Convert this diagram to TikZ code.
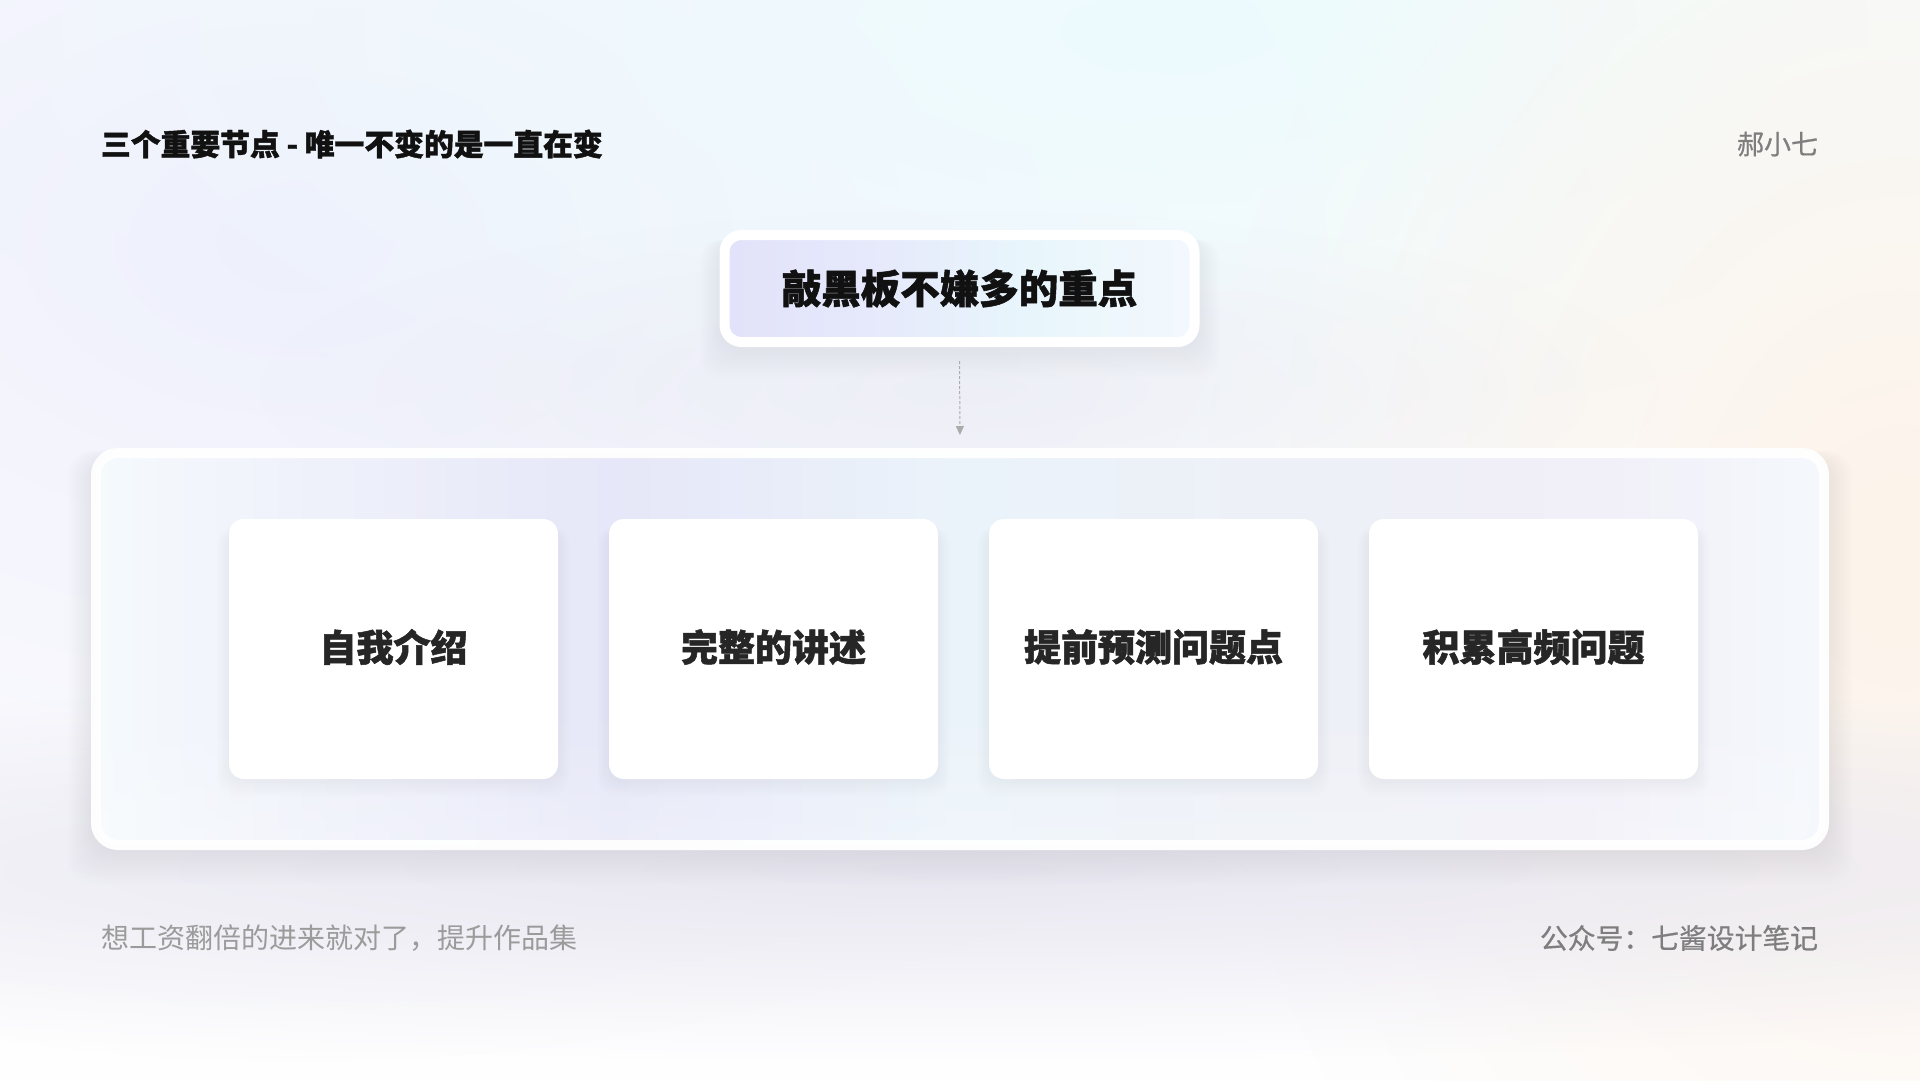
\documentclass[tikz,border=0pt]{standalone}
\usepackage{fontspec}
\usetikzlibrary{arrows.meta,fadings}
\newfontfamily\cjk{Noto Sans CJK SC}
\newfontfamily\cjkheavy{Noto Sans CJK SC}[BoldFeatures={FakeBold=1.4}]
\newfontfamily\cjkmed{Noto Sans CJK SC}[FakeBold=0.6]

\definecolor{bgbase}{HTML}{FEFEFF}
\definecolor{bglav}{HTML}{EFF0FC}
\definecolor{bgcyan}{HTML}{EDFBFD}
\definecolor{bgpeach}{HTML}{FCF3EA}
\definecolor{bgshadow}{HTML}{E8E6F0}
\definecolor{titleblack}{HTML}{111111}
\definecolor{cardtext}{HTML}{262626}
\definecolor{graytext}{HTML}{7E7E7E}
\definecolor{lighttext}{HTML}{9B9B9B}
\definecolor{arrowgray}{HTML}{ABABAB}
\definecolor{shadowcol}{HTML}{6A6888}
\definecolor{tg1}{HTML}{E2E2FA}
\definecolor{tg2}{HTML}{E6EAFB}
\definecolor{tg3}{HTML}{E8F6FC}
\definecolor{tg4}{HTML}{F3F8FD}
\definecolor{cg1}{HTML}{F5FAFD}
\definecolor{cg2}{HTML}{EEF0FA}
\definecolor{cg3}{HTML}{E6E7F8}
\definecolor{cg4}{HTML}{EBF3FA}
\definecolor{cg5}{HTML}{EDF0F7}
\definecolor{cg6}{HTML}{F1EFF8}
\definecolor{cg7}{HTML}{F4F8FC}

% TikZ maps 25bp..75bp of a shading onto the path
\pgfdeclarehorizontalshading{topgrad}{100bp}{color(0bp)=(tg1); color(25bp)=(tg1); color(42bp)=(tg2); color(58bp)=(tg3); color(75bp)=(tg4); color(100bp)=(tg4)}
\pgfdeclarehorizontalshading{boxgrad}{100bp}{color(0bp)=(cg1); color(25bp)=(cg1); color(32bp)=(cg2); color(40bp)=(cg3); color(50bp)=(cg4); color(59bp)=(cg5); color(68bp)=(cg6); color(75bp)=(cg7); color(100bp)=(cg7)}
\tikzfading[name=softblob, inner color=transparent!0, outer color=transparent!100]

\tikzset{
  txt/.style={inner sep=0pt, outer sep=0pt},
  container/.style={draw=white, draw opacity=0.95, line width=10pt, rounded corners=22pt, shade, shading=boxgrad,
    minimum width=1728pt, minimum height=392pt, inner sep=0pt},
  topbox/.style={draw=white, line width=10pt, rounded corners=17pt, shade, shading=topgrad,
    minimum width=470pt, minimum height=107pt, inner sep=0pt,
    font=\cjkheavy\bfseries\fontsize{39.5}{46}\selectfont, text=titleblack},
  card/.style={fill=white, rounded corners=15pt, minimum width=329pt, minimum height=260pt,
    inner sep=0pt},
  cardlabel/.style={inner sep=0pt, font=\cjkheavy\bfseries\fontsize{37}{42}\selectfont, text=cardtext},
  conn/.style={draw=arrowgray, line width=1pt, dash pattern=on 3pt off 2pt,
    -{Triangle[length=9pt,width=8pt]}, shorten <=14pt, shorten >=13pt},
  blob/.style={path fading=softblob}
}

\begin{document}
\begin{tikzpicture}[x=1pt,y=-1pt]
\useasboundingbox (0,0) rectangle (1920,1080);
% background
\fill[bgbase] (0,0) rectangle (1920,1080);
\fill[bglav, blob] (300,240) ellipse [x radius=1300, y radius=820];
\fill[bgcyan, blob] (1180,30) ellipse [x radius=1300, y radius=520];
\fill[bgpeach, blob] (1900,560) ellipse [x radius=700, y radius=900];
\fill[bgshadow, blob] (960,870) ellipse [x radius=2000, y radius=190];
\fill[bgshadow, blob, opacity=0.5] (960,390) ellipse [x radius=700, y radius=180];

% container shadow
\foreach \i in {1,...,16}{
  \fill[shadowcol, opacity=0.0035, rounded corners=26pt] (91-\i*1.5,448-\i*0.5+10) rectangle (1829+\i*1.5,850+\i*2.2);
}
\node[container] (box) at (960,649) {};
% lighter lower band inside the container
\fill[white, opacity=0.25, path fading=north, rounded corners=16pt] (101,700) rectangle (1819,840);

% card shadows
\foreach \cx in {393.5,773.5,1153.5,1533.5}{
  \foreach \i in {1,...,10}{
    \fill[shadowcol, opacity=0.003, rounded corners=18pt] (\cx-164.5-\i*1.2,519+8) rectangle (\cx+164.5+\i*1.2,779+\i*1.8);
  }
}
\node[card] (c1) at (393.5,649) {};
\node[card] (c2) at (773.5,649) {};
\node[card] (c3) at (1153.5,649) {};
\node[card] (c4) at (1533.5,649) {};
\node[cardlabel] (t1) at (393.5,647) {自我介绍};
\node[cardlabel] (t2) at (773.5,647) {完整的讲述};
\node[cardlabel] (t3) at (1153.5,647) {提前预测问题点};
\node[cardlabel] (t4) at (1533.5,647) {积累高频问题};

% top box shadow
\foreach \i in {1,...,14}{
  \fill[shadowcol, opacity=0.004, rounded corners=20pt] (720-\i*1.5,230+10) rectangle (1199+\i*1.5,347+\i*2.2);
}
\node[topbox] (top) at (959.5,288.5) {敲黑板不嫌多的重点};

\draw[conn] (top.south) -- (box.north);

% texts
\node[txt, anchor=west, text=titleblack, font=\cjkheavy\bfseries\fontsize{29.8}{34}\selectfont] (title) at (101,144) {三个重要节点 - 唯一不变的是一直在变};
\node[txt, anchor=east, text=graytext, font=\cjkmed\fontsize{27}{32}\selectfont] (author) at (1818,144) {郝小七};
\node[txt, anchor=west, text=lighttext, font=\cjk\fontsize{28}{32}\selectfont] (slogan) at (101,938) {想工资翻倍的进来就对了，提升作品集};
\node[txt, anchor=east, text=graytext, font=\cjkmed\fontsize{27.8}{32}\selectfont] (account) at (1818,938) {公众号：七酱设计笔记};
\end{tikzpicture}
\end{document}
